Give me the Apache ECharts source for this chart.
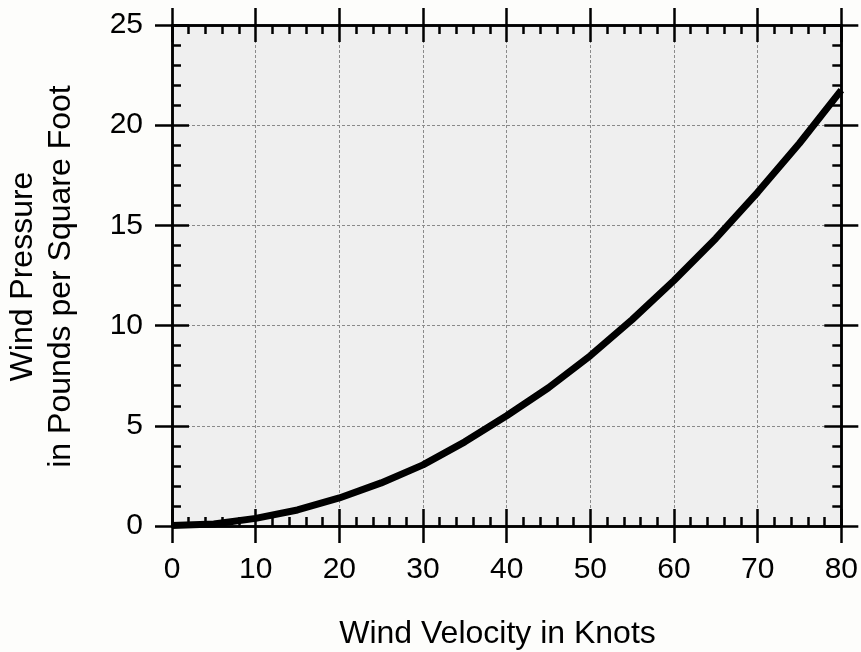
<!DOCTYPE html>
<html><head><meta charset="utf-8">
<script src="https://cdn.jsdelivr.net/npm/echarts@6/dist/echarts.min.js"></script>
<style>html,body{margin:0;padding:0;background:#fdfdfb}#c{width:861px;height:652px}</style>
</head><body><div id="c"></div>
<script>
// ---- data ----
const velocityKnots = [0, 5, 10, 15, 20, 25, 30, 35, 40, 45, 50, 55, 60, 65, 70, 75, 80];
const pressurePsf   = [0.02, 0.1, 0.38, 0.8, 1.4, 2.15, 3.05, 4.2, 5.5, 6.9, 8.5, 10.3, 12.25, 14.35, 16.65, 19.1, 21.75];
const xRange = [0, 80, 10];   // min, max, interval
const yRange = [0, 25, 5];
const xTitle = 'Wind Velocity in Knots';
const yTitleLines = ['Wind Pressure', 'in Pounds per Square Foot'];

const FONT = '"Liberation Sans", Arial, Helvetica, sans-serif';
const AX_W = 2.5;

function makeAxis(range, pos, opts) {
  return {
    type: 'value', position: pos,
    min: range[0], max: range[1], interval: range[2],
    axisLine: { show: true, onZero: false, lineStyle: { color: '#000', width: AX_W } },
    axisTick: { show: true, inside: opts.inside, length: 17, lineStyle: { color: '#000', width: AX_W } },
    minorTick: { show: !!opts.minor, splitNumber: 5, length: 9, lineStyle: { color: '#000', width: AX_W } },
    axisLabel: opts.label ? { show: true, margin: 29, color: '#000', fontSize: 30, fontFamily: FONT } : { show: false },
    splitLine: opts.split ? { show: true, lineStyle: { color: '#8a8a8a', width: 1, type: [3, 2] } } : { show: false },
    z: opts.split ? 1 : 3
  };
}

const data = velocityKnots.map((v, i) => [v, pressurePsf[i]]);

const chart = echarts.init(document.getElementById('c'), null, { renderer: 'canvas' });
chart.setOption({
  backgroundColor: '#fdfdfb',
  animation: false,
  grid: { left: 172, top: 25, right: 19, bottom: 126, show: true, backgroundColor: '#efefef', borderWidth: 0 },
  xAxis: [
    makeAxis(xRange, 'bottom', { inside: false, label: true, split: true }),
    makeAxis(xRange, 'bottom', { inside: true, minor: true }),
    makeAxis(xRange, 'top', { inside: false }),
    makeAxis(xRange, 'top', { inside: true, minor: true })
  ],
  yAxis: [
    makeAxis(yRange, 'left', { inside: false, label: true, split: true }),
    makeAxis(yRange, 'left', { inside: true, minor: true }),
    makeAxis(yRange, 'right', { inside: false }),
    makeAxis(yRange, 'right', { inside: true, minor: true })
  ],
  series: [{
    type: 'line', data: data, xAxisIndex: 0, yAxisIndex: 0,
    symbol: 'none', smooth: false, z: 5,
    lineStyle: { color: '#000', width: 7, join: 'round' }
  }],
  graphic: [
    { type: 'text', x: 497.5, y: 634, style: { text: xTitle, fill: '#000', font: '32px ' + FONT, textAlign: 'center', textVerticalAlign: 'middle' } },
    { type: 'text', x: 23.5, y: 276.5, rotation: Math.PI / 2, style: { text: yTitleLines[0], fill: '#000', font: '32px ' + FONT, textAlign: 'center', textVerticalAlign: 'middle' } },
    { type: 'text', x: 61.5, y: 276.5, rotation: Math.PI / 2, style: { text: yTitleLines[1], fill: '#000', font: '32px ' + FONT, textAlign: 'center', textVerticalAlign: 'middle' } }
  ]
});
</script></body></html>
